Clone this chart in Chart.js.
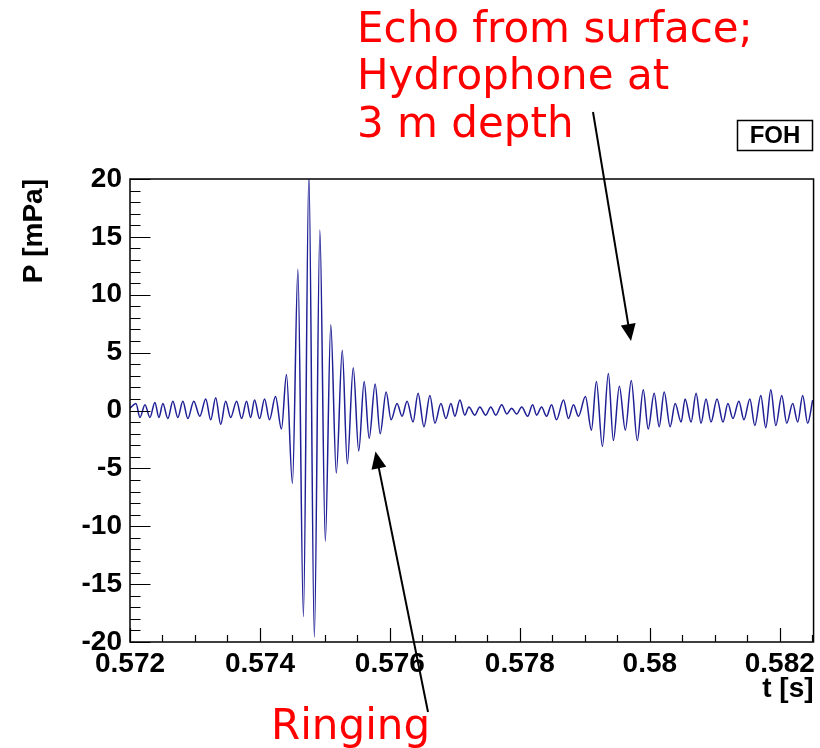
<!DOCTYPE html>
<html>
<head>
<meta charset="utf-8">
<script src="https://cdn.jsdelivr.net/npm/chart.js@4.4.1/dist/chart.umd.min.js"></script>
<style>
  body { margin: 0; background: #fff; }
  canvas { display: block; }
</style>
</head>
<body>
<canvas id="chart" width="820" height="748"></canvas>
<script>
// Waveform (t in s, P in mPa), split by region
const quietTimes = [0.572000, 0.572092, 0.572153, 0.572230, 0.572307, 0.572383, 0.572445, 0.572506, 0.572583, 0.572660,
    0.572736, 0.572813, 0.572890, 0.572982, 0.573074, 0.573166, 0.573242, 0.573319, 0.573396, 0.573472,
    0.573549, 0.573641, 0.573718, 0.573794, 0.573856, 0.573917, 0.573994, 0.574071, 0.574147, 0.574239];
const quietValues = [0.2, 0.6, -0.6, 0.5, -0.6, 0.7, -0.6, 0.6, -0.7, 0.8,
    -0.6, 0.8, -0.7, 0.8, -0.5, 1.0, -0.8, 1.1, -1.2, 0.8,
    -0.6, 0.8, -0.7, 0.8, -0.6, 0.9, -0.7, 1.0, -0.8, 1.2];

const burstTimes = [0.574331, 0.574408, 0.574500, 0.574584, 0.574669, 0.574753, 0.574837, 0.574922, 0.575006, 0.575090,
    0.575175, 0.575267, 0.575344, 0.575436, 0.575520, 0.575604, 0.575681, 0.575773, 0.575850, 0.575942, 0.576018];
const burstValues = [-1.6, 3.1, -6.3, 12.2, -17.8, 20.5, -19.6, 15.6, -11.3, 7.4,
    -5.4, 5.2, -4.6, 3.7, -3.5, 2.5, -2.4, 2.3, -2.0, 1.6, -0.8];

const middleTimes = [0.576110, 0.576187, 0.576264, 0.576356, 0.576433, 0.576524, 0.576616, 0.576693, 0.576785, 0.576862,
    0.576939, 0.577000, 0.577077, 0.577153, 0.577215, 0.577307, 0.577383, 0.577475, 0.577552, 0.577629,
    0.577721, 0.577798, 0.577874, 0.577951, 0.578028, 0.578120, 0.578196, 0.578258];
const middleValues = [0.6, -0.5, 0.8, -1.0, 1.5, -1.4, 1.3, -1.1, 0.6, -0.7,
    0.6, -0.5, 0.9, -0.4, 0.3, -0.4, 0.3, -0.4, 0.3, -0.4,
    0.5, -0.3, 0.2, -0.3, 0.3, -0.5, 0.5, -0.4];

const echoTimes = [0.578334, 0.578411, 0.578488, 0.578564, 0.578672, 0.578748, 0.578825, 0.578902, 0.579009, 0.579101,
    0.579178, 0.579270, 0.579362, 0.579439, 0.579531, 0.579623, 0.579715, 0.579807, 0.579899, 0.579975,
    0.580067, 0.580144, 0.580221, 0.580313, 0.580390, 0.580482, 0.580543, 0.580635, 0.580712, 0.580788,
    0.580865, 0.580942, 0.581034, 0.581126, 0.581202, 0.581279, 0.581371, 0.581448, 0.581540, 0.581616,
    0.581708, 0.581785, 0.581862, 0.581939, 0.582031, 0.582107, 0.582199, 0.582276, 0.582353, 0.582429, 0.582506];
const echoValues = [0.3, -0.5, 0.5, -0.8, 0.9, -0.7, 0.5, -0.5, 1.2, -1.7,
    2.5, -3.1, 3.2, -2.6, 2.1, -1.7, 2.6, -2.6, 1.8, -1.6,
    1.5, -1.4, 1.6, -1.4, 0.6, -1.0, 1.0, -1.0, 1.5, -1.1,
    1.0, -1.0, 1.0, -1.0, 0.6, -0.7, 0.8, -0.8, 1.0, -1.3,
    1.3, -1.5, 1.8, -1.3, 1.3, -1.1, 0.6, -1.0, 1.3, -1.1, 0.9];

const xTickValues = [0.572, 0.574, 0.576, 0.578, 0.58, 0.582];
const yTickValues = [-20, -15, -10, -5, 0, 5, 10, 15, 20];

const times = [...quietTimes, ...burstTimes, ...middleTimes, ...echoTimes];
const pressure = [...quietValues, ...burstValues, ...middleValues, ...echoValues];
const points = times.map((t, i) => ({ x: t, y: pressure[i] }));

const tickFont = { family: 'Liberation Sans', weight: 'bold', size: 28 };

function drawArrow(ctx, x1, y1, x2, y2) {
    const ang = Math.atan2(y2 - y1, x2 - x1);
    const len = 17, half = 7.5;
    ctx.beginPath();
    ctx.moveTo(x1, y1);
    ctx.lineTo(x2 - Math.cos(ang) * len * 0.8, y2 - Math.sin(ang) * len * 0.8);
    ctx.stroke();
    ctx.beginPath();
    ctx.moveTo(x2, y2);
    ctx.lineTo(x2 - Math.cos(ang) * len - Math.sin(ang) * half, y2 - Math.sin(ang) * len + Math.cos(ang) * half);
    ctx.lineTo(x2 - Math.cos(ang) * len + Math.sin(ang) * half, y2 - Math.sin(ang) * len - Math.cos(ang) * half);
    ctx.closePath();
    ctx.fill();
}

// frame, inward ROOT-style ticks, axis titles, label box and annotations
const decorations = {
    id: 'decorations',
    afterDraw(chart) {
        const { ctx, chartArea: a, scales } = chart;
        const xs = scales.x, ys = scales.y;
        ctx.save();
        ctx.strokeStyle = '#000';
        ctx.fillStyle = '#000';
        ctx.lineWidth = 1.5;
        ctx.strokeRect(a.left, a.top, a.right - a.left, a.bottom - a.top);

        ctx.lineWidth = 1.2;
        ctx.beginPath();
        for (let v = -20; v <= 20; v += 1) {
            const y = Math.round(ys.getPixelForValue(v)) + 0.5;
            const len = v % 5 === 0 ? 20.5 : 10.5;
            ctx.moveTo(a.left, y);
            ctx.lineTo(a.left + len, y);
        }
        for (let k = 0; k <= 21; k++) {
            const v = 0.572 + k * 0.0005;
            if (v > xs.max) break;
            const x = Math.round(xs.getPixelForValue(v)) + 0.5;
            const len = k % 4 === 0 ? 14 : 7;
            ctx.moveTo(x, a.bottom);
            ctx.lineTo(x, a.bottom - len);
        }
        ctx.stroke();

        ctx.font = 'bold 28px "Liberation Sans"';
        ctx.textAlign = 'right';
        ctx.textBaseline = 'middle';
        ctx.fillText('t [s]', a.right, 689);
        ctx.save();
        ctx.translate(34, a.top);
        ctx.rotate(-Math.PI / 2);
        ctx.fillText('P [mPa]', 0, 0);
        ctx.restore();

        // label box
        ctx.lineWidth = 1.5;
        ctx.strokeRect(737.5, 120.5, 75, 30);
        ctx.font = 'bold 24px "Liberation Sans"';
        ctx.textAlign = 'center';
        ctx.fillText('FOH', 775, 136);

        // annotations
        ctx.fillStyle = '#ff0000';
        ctx.font = '42px "DejaVu Sans"';
        ctx.textAlign = 'left';
        ctx.textBaseline = 'alphabetic';
        ctx.fillText('Echo from surface;', 357, 42);
        ctx.fillText('Hydrophone at', 357, 89);
        ctx.fillText('3 m depth', 357, 137);
        ctx.fillText('Ringing', 271, 739);

        ctx.fillStyle = '#000';
        ctx.lineWidth = 2;
        drawArrow(ctx, 593, 112, 631, 341);
        drawArrow(ctx, 428, 712, 375.5, 451.5);
        ctx.restore();
    }
};

Chart.defaults.color = '#000';

new Chart(document.getElementById('chart').getContext('2d'), {
    type: 'line',
    data: {
        datasets: [{
            data: points,
            borderColor: '#1f1f96',
            borderWidth: 1.5,
            pointRadius: 0,
            fill: false,
            cubicInterpolationMode: 'monotone'
        }]
    },
    options: {
        responsive: false,
        animation: false,
        layout: { padding: { left: 0, top: 179, right: 4, bottom: 0 } },
        plugins: { legend: { display: false }, tooltip: { enabled: false } },
        scales: {
            x: {
                type: 'linear',
                min: 0.572,
                max: 0.58252,
                grid: { display: false, drawTicks: false },
                border: { display: false },
                afterBuildTicks: (s) => { s.ticks = xTickValues.map(v => ({ value: v })); },
                afterFit: (s) => { s.height = 106; },
                ticks: {
                    font: tickFont,
                    padding: 5,
                    maxRotation: 0,
                    autoSkip: false,
                    callback: (v) => String(+v.toFixed(3))
                }
            },
            y: {
                min: -20,
                max: 20,
                grid: { display: false, drawTicks: false },
                border: { display: false },
                afterBuildTicks: (s) => { s.ticks = yTickValues.map(v => ({ value: v })); },
                afterFit: (s) => { s.width = 130; },
                ticks: { font: tickFont, padding: 8 }
            }
        }
    },
    plugins: [decorations]
});
</script>
</body>
</html>
